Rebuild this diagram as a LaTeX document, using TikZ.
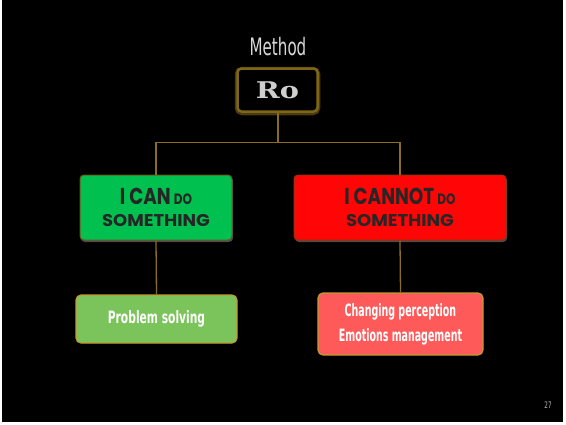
\documentclass[tikz,border=0pt]{standalone}
\usepackage{fontspec}
\usepackage{graphicx}
\usetikzlibrary{shadows,calc}
\newfontfamily\condf{DejaVu Sans Condensed}
\newfontfamily\heavyf{Poppins}
\newfontfamily\slabf{DejaVu Serif}
\definecolor{bgblack}{HTML}{000000}
\definecolor{gold}{HTML}{8A6D1E}
\definecolor{robord}{HTML}{6E5518}
\definecolor{cangreen}{HTML}{00C050}
\definecolor{cangreenb}{HTML}{6B5A1E}
\definecolor{cannotred}{HTML}{FF0505}
\definecolor{cannotredb}{HTML}{9A3010}
\definecolor{probgreen}{HTML}{7BC45B}
\definecolor{chgred}{HTML}{FE5A5A}
\definecolor{lightbord}{HTML}{C09A30}
\definecolor{darktext}{HTML}{262626}
\definecolor{rogray}{HTML}{CFCFCF}
\newcommand{\bigcapsA}[1]{{\fontsize{23}{23}\selectfont\bfseries #1}}
\newcommand{\smcapsA}[1]{{\fontsize{15}{15}\selectfont\bfseries #1}}
\newcommand{\smcapsB}[1]{{\fontsize{17}{17}\selectfont\bfseries #1}}
\tikzset{
  conn/.style={draw=gold, line width=1.3pt},
  topbox/.style={draw=cangreenb, line width=1pt, rounded corners=4pt, inner sep=0pt, text=darktext, align=center,
     font=\heavyf\fontsize{15}{22}\selectfont,
     drop shadow={opacity=0.6, shadow xshift=1pt, shadow yshift=-2pt}},
  lowbox/.style={draw=lightbord, line width=1.2pt, rounded corners=5pt, text=white, inner sep=0pt},
  lowtext/.style={font=\condf\bfseries\fontsize{17}{25}\selectfont},
}
\begin{document}
\begin{tikzpicture}[x=1pt,y=-1pt]
\useasboundingbox (0,0) rectangle (566,424);
\fill[white] (0,0) rectangle (566,424);
\fill[bgblack] (2,0) rectangle (563,422);

\node[text=white!85!black, font=\condf\fontsize{24}{24}\selectfont] (title) at (278,47) {\scalebox{0.7}[1]{Method}};

\draw[robord!70!black, line width=4.5pt, rounded corners=5pt] (237,69) rectangle (318,113);
\node[draw=robord!90!yellow, line width=2.5pt, rounded corners=4pt, fill=black, minimum width=80pt, minimum height=43pt, inner sep=0pt, text=rogray, font=\slabf\bfseries\fontsize{23}{23}\selectfont] (ro) at (277.5,90) {\scalebox{1.25}[1]{Ro}};

\node[topbox, fill=cangreen, minimum width=152pt, minimum height=65pt] (can) at (156,207.5)
  {\scalebox{0.8}[1]{\bigcapsA{I CAN} \smcapsA{DO}}\\\scalebox{1.06}[1]{\smcapsB{SOMETHING}}};

\node[topbox, draw=cannotredb, fill=cannotred, minimum width=212pt, minimum height=65pt] (cannot) at (400,207.5)
  {\scalebox{0.8}[1]{\bigcapsA{I CANNOT} \smcapsA{DO}}\\\scalebox{1.06}[1]{\smcapsB{SOMETHING}}};

\node[lowbox, fill=probgreen, minimum width=161pt, minimum height=48pt, lowtext, align=center] (prob) at (156.5,319)
  {\scalebox{0.7}[1]{Problem solving}};

\node[lowbox, fill=chgred, minimum width=165pt, minimum height=62pt, lowtext, align=center] (chg) at (400.5,324)
  {\scalebox{0.62}[1]{Changing perception}\\\scalebox{0.62}[1]{Emotions management}};

\node[text=white!70!black, font=\condf\fontsize{9}{9}\selectfont] (pg) at (548,405) {\scalebox{0.7}[1]{27}};

\draw[conn, line width=2pt] (ro.south) -- ++(0,30) coordinate (j);
\draw[conn] (j) -| (can.north);
\draw[conn] (j) -| (cannot.north);
\draw[conn] (can.south) -- (prob.north);
\draw[conn] (cannot.south) -- (chg.north);
\end{tikzpicture}
\end{document}
